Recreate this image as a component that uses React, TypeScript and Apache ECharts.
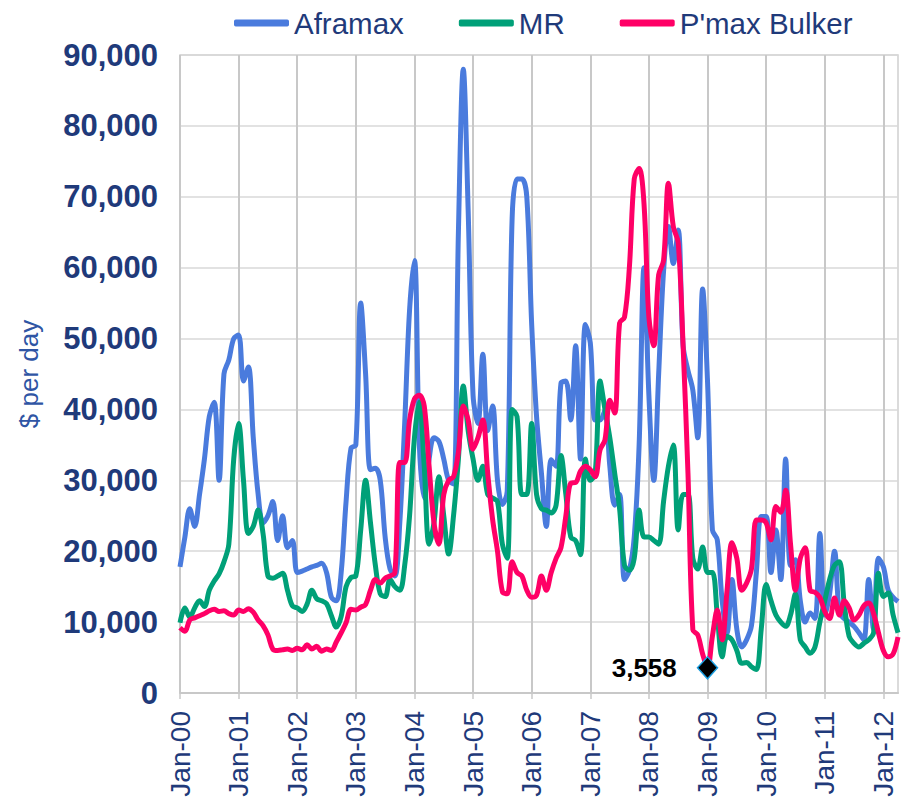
import React, { useEffect, useRef } from 'react';
import * as echarts from 'echarts';

const monthNames = ['Jan', 'Feb', 'Mar', 'Apr', 'May', 'Jun', 'Jul', 'Aug', 'Sep', 'Oct', 'Nov', 'Dec'];
const yearLabels = ['00', '01', '02', '03', '04', '05', '06', '07', '08', '09', '10', '11', '12'];
const allMonths: string[] = [];
for (const y of yearLabels) for (const m of monthNames) allMonths.push(`${m}-${y}`);
const categories = allMonths.slice(0, 148); // Jan-00 .. Apr-12

const aframax = [
  17800, 22000, 26000, 23500, 28000, 33000, 39000, 41000, 30000, 45000, 47000, 50000,
  50500, 44000, 46000, 36000, 28000, 24000, 25000, 27000, 21500, 25000, 20500, 21500,
  17000, 17200, 17500, 17800, 18000, 18300, 17000, 13500, 13000, 17000, 27000, 34500,
  35000, 55000, 45000, 31500, 31700, 30000, 22000, 17500, 16500, 24000, 38000, 54000,
  61000, 35000, 27500, 33000, 36000, 35500, 33000, 30000, 29500, 65000, 88000, 68000,
  42000, 38000, 47800, 37000, 40500, 30000, 26600, 28500, 67000, 72500, 72500, 70000,
  52000, 39000, 31000, 23500, 32900, 32000, 43700, 44000, 38500, 49000, 33000, 52000,
  49400, 38500, 38500, 39900, 32000, 26500, 28000, 16000, 17300, 22000, 35000, 60000,
  42000, 30000, 45000, 59500, 65800, 60600, 65300, 49000, 45500, 42700, 36000, 57000,
  44000, 23000, 21600, 13000, 8500, 16000, 9000, 6500, 7500, 9500, 17000, 24900,
  24900, 17000, 23000, 16000, 33000, 18000, 18800, 13000, 10000, 11300, 10500, 22500,
  11000, 14000, 20000, 11300, 10500, 10000, 9400, 8500, 7500, 16000, 9000, 19000,
  17800, 14500, 13500, 12900,
];

const mr = [
  9900, 12000, 10700, 12000, 13000, 12200, 14500, 15800, 16800, 18500, 21000, 33000,
  38000, 30000, 22500, 23500, 25800, 22500, 16500, 16200, 16500, 16900, 14500, 12300,
  12000, 11500, 12500, 14500, 13300, 13000, 12600, 10900, 9300, 10800, 15000, 16300,
  16500, 23000, 30000, 24000, 18000, 14000, 13600, 16000, 15000, 14500, 18000, 25000,
  36000, 41000, 32000, 21000, 24000, 30500, 25000, 19600, 25000, 33000, 43300, 37000,
  33000, 30000, 32000, 28000, 27500, 27000, 21000, 19000, 40000, 39000, 28000, 28000,
  38000, 28000, 26000, 25800, 25400, 26500, 33500, 28000, 22000, 21500, 19500, 33000,
  30000, 31000, 44000, 40000, 36000, 31000, 26000, 18000, 17300, 19000, 25800, 22000,
  22000, 21500, 21000, 27000, 32000, 35000, 23000, 28000, 28000, 19000, 17500, 20600,
  17000, 17000, 11000, 5100, 8000, 7500, 6000, 4200, 4300, 3700, 3300, 9000,
  15300, 13000, 11000, 10000, 9400, 11000, 14000, 7500, 6500, 5600, 6500, 10000,
  13000, 16000, 18000, 18500, 12500, 8000, 7000, 6500, 7000, 7500, 8500, 16900,
  13600, 14100, 11000, 8500,
];

const pmaxBulker = [
  9200, 8700, 10300, 10600, 10900, 11200, 11600, 11800, 11500, 11600, 11200, 11000,
  11700, 11500, 11900, 11400, 10300, 9500, 8200, 6200, 6000, 6100, 6200, 6000,
  6300, 6100, 6800, 6200, 6600, 5900, 6200, 6000, 7200, 8500, 9900, 11800,
  11700, 12100, 12500, 14500, 16000, 15500, 16200, 16500, 17000, 32500, 32500, 38500,
  41500, 42000, 40500, 32000, 24000, 21000, 28000, 30000, 30500, 34000, 40500, 38500,
  34400, 36000, 38500, 31000, 24500, 20000, 14300, 14000, 18500, 17000, 16500, 14500,
  13500, 13800, 16500, 14500, 17000, 19000, 20500, 25000, 29600, 29700, 31300, 32000,
  31500, 30500, 34300, 35700, 41300, 39500, 52200, 53000, 60000, 72500, 74000, 69000,
  53000, 49000, 59000, 61000, 71900, 65800, 63500, 49000, 31000, 8900, 8200, 5500,
  3558, 8000, 11700, 7500, 14500, 21200, 19000, 14500, 15500, 17500, 24400, 24400,
  24000, 21600, 26300, 25500, 28600, 21000, 14500, 19000, 20500, 14500, 14200, 13500,
  11500, 10500, 13400, 11000, 13000, 12000, 10300, 11000, 12300, 12700, 11200, 8500,
  6000, 5100, 5500, 7900,
];

const lowPoint = { label: 'Jan-09', value: 3558, text: '3,558' };

const isJan = (index: number) => index % 12 === 0;

export default function App() {
  const ref = useRef<HTMLDivElement>(null);
  useEffect(() => {
    document.body.style.margin = '0';
    if (!ref.current) return;
    const chart = echarts.init(ref.current, undefined, { renderer: 'svg' });
    const navy = '#1f3a7a';
    chart.setOption({
      animation: false,
      textStyle: { fontFamily: '"Liberation Sans", Arial, sans-serif' },
      grid: {
        left: 180, right: 15, top: 55, bottom: 113,
        show: true, borderColor: '#d0d0d0', borderWidth: 1.5,
      },
      legend: {
        top: 3, left: 229,
        icon: 'roundRect', itemWidth: 55, itemHeight: 7, itemGap: 55,
        textStyle: { fontSize: 29.5, color: navy },
        data: ['Aframax', 'MR', "P'max Bulker"],
      },
      xAxis: {
        type: 'category',
        data: categories,
        boundaryGap: false,
        axisLine: { lineStyle: { color: '#c8c8c8', width: 2 } },
        axisTick: { interval: isJan, length: 6, lineStyle: { color: '#c8c8c8', width: 1.5 } },
        axisLabel: { interval: isJan, rotate: 90, fontSize: 28, color: navy, margin: 18 },
        splitLine: { show: true, interval: isJan, lineStyle: { color: '#c8c8c8', width: 2 } },
      },
      yAxis: {
        type: 'value', min: 0, max: 90000, interval: 10000,
        name: '$ per day', nameLocation: 'middle', nameGap: 138,
        nameTextStyle: { fontSize: 26, color: '#2f55a4' },
        axisLabel: {
          fontSize: 31, fontWeight: 'bold', color: navy, margin: 22,
          formatter: (v: number) => v.toLocaleString('en-US'),
        },
        axisLine: { show: false },
        axisTick: { show: false },
        splitLine: { lineStyle: { color: '#d9d9d9', width: 1.5 } },
      },
      series: [
        {
          name: 'Aframax', type: 'line', data: aframax, smooth: 0.35, showSymbol: false,
          lineStyle: { color: '#4a7bdd', width: 5 }, itemStyle: { color: '#4a7bdd' },
        },
        {
          name: 'MR', type: 'line', data: mr, smooth: 0.35, showSymbol: false,
          lineStyle: { color: '#00a078', width: 5 }, itemStyle: { color: '#00a078' },
        },
        {
          name: "P'max Bulker", type: 'line', data: pmaxBulker, smooth: 0.35, showSymbol: false,
          lineStyle: { color: '#ff0066', width: 5 }, itemStyle: { color: '#ff0066' },
          markPoint: {
            data: [{
              coord: [lowPoint.label, lowPoint.value],
              symbol: 'diamond', symbolSize: [20, 22],
              itemStyle: { color: '#000000', borderColor: '#1a9ee0', borderWidth: 1.5 },
              label: {
                show: true, position: 'left', distance: 20, formatter: lowPoint.text,
                fontSize: 26, fontWeight: 'bold', color: '#000000',
              },
            }],
          },
        },
      ],
    });
    return () => chart.dispose();
  }, []);
  return <div ref={ref} style={{ width: 913, height: 806 }} />;
}
